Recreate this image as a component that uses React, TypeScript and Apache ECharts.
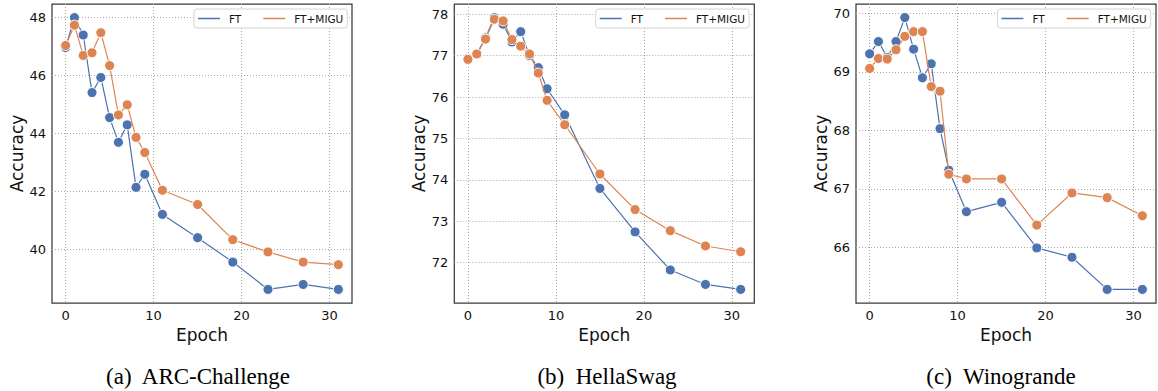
import React, { useEffect, useRef } from "react";
import * as echarts from "echarts";

const epochs = [0, 1, 2, 3, 4, 5, 6, 7, 8, 9, 11, 15, 19, 23, 27, 31];

const arcFT = [46.95, 47.98, 47.38, 45.4, 45.92, 44.54, 43.69, 44.29, 42.14, 42.59, 41.21, 40.41, 39.57, 38.63, 38.8, 38.63];
const arcMIGU = [47.02, 47.72, 46.68, 46.77, 47.46, 46.33, 44.63, 44.98, 43.86, 43.34, 42.04, 41.55, 40.34, 39.92, 39.57, 39.48];

const hsFT = [76.93, 77.04, 77.43, 77.92, 77.76, 77.33, 77.58, 77.0, 76.71, 76.2, 75.57, 73.79, 72.74, 71.82, 71.47, 71.35];
const hsMIGU = [76.91, 77.04, 77.4, 77.88, 77.84, 77.39, 77.23, 77.04, 76.58, 75.92, 75.33, 74.14, 73.28, 72.77, 72.4, 72.26];

const wgFT = [69.31, 69.52, 69.25, 69.52, 69.93, 69.39, 68.9, 69.14, 68.03, 67.32, 66.61, 66.77, 65.99, 65.83, 65.28, 65.28];
const wgMIGU = [69.06, 69.23, 69.22, 69.38, 69.61, 69.69, 69.69, 68.75, 68.67, 67.25, 67.17, 67.17, 66.38, 66.93, 66.85, 66.54];

const xTicks = [0, 10, 20, 30];
const arcYTicks = [40, 42, 44, 46, 48];
const hsYTicks = [72, 73, 74, 75, 76, 77, 78];
const wgYTicks = [66, 67, 68, 69, 70];

const captions = ["(a)\u00a0 ARC-Challenge", "(b)\u00a0 HellaSwag", "(c)\u00a0 Winogrande"];
const seriesNames = ["FT", "FT+MIGU"];

const BLUE = "#4c72b0";
const ORANGE = "#dd8452";
const FONT = "DejaVu Sans";

const panels = [
  { ft: arcFT, migu: arcMIGU, yTicks: arcYTicks, left: 52, legendRight: 810.7, capX: 198 },
  { ft: hsFT, migu: hsMIGU, yTicks: hsYTicks, left: 454.3, legendRight: 409, capX: 607 },
  { ft: wgFT, migu: wgMIGU, yTicks: wgYTicks, left: 856, legendRight: 7.3, capX: 1001 },
];

export default function App() {
  const ref = useRef<HTMLDivElement>(null);
  useEffect(() => {
    if (!ref.current) return;
    const chart = echarts.init(ref.current, undefined, { renderer: "svg" });
    const xMin = Math.min(...epochs);
    const xMax = Math.max(...epochs);
    const xPad = (xMax - xMin) * 0.05;

    const grids: any[] = [];
    const xAxes: any[] = [];
    const yAxes: any[] = [];
    const series: any[] = [];
    const legends: any[] = [];
    const graphics: any[] = [];

    panels.forEach((p, i) => {
      const all = [...p.ft, ...p.migu];
      const lo = Math.min(...all);
      const hi = Math.max(...all);
      const pad = (hi - lo) * 0.05;
      grids.push({
        left: p.left,
        top: 4,
        width: 300,
        height: 299,
        show: true,
        borderColor: "#3a3a3a",
        borderWidth: 1.25,
        backgroundColor: "transparent",
        containLabel: false,
      });
      xAxes.push({
        type: "value",
        gridIndex: i,
        min: xMin - xPad,
        max: xMax + xPad,
        name: "Epoch",
        nameLocation: "middle",
        nameGap: 22,
        nameTextStyle: { fontFamily: FONT, fontSize: 17, color: "#111" },
        axisLine: { show: false },
        axisTick: { show: false, customValues: xTicks },
        axisLabel: { customValues: xTicks, fontFamily: FONT, fontSize: 13, color: "#111", margin: 6 },
        splitLine: { show: true, lineStyle: { type: [1, 2], color: "#a8a8a8", width: 1 } },
      });
      yAxes.push({
        type: "value",
        gridIndex: i,
        min: lo - pad,
        max: hi + pad,
        name: "Accuracy",
        nameLocation: "middle",
        nameGap: 27,
        nameTextStyle: { fontFamily: FONT, fontSize: 17, color: "#111" },
        axisLine: { show: false },
        axisTick: { show: false, customValues: p.yTicks },
        axisLabel: { customValues: p.yTicks, fontFamily: FONT, fontSize: 13, color: "#111", margin: 6 },
        splitLine: { show: true, lineStyle: { type: [1, 2], color: "#a8a8a8", width: 1 } },
      });
      [p.ft, p.migu].forEach((vals, k) => {
        series.push({
          type: "line",
          name: seriesNames[k],
          xAxisIndex: i,
          yAxisIndex: i,
          data: epochs.map((e, j) => [e, vals[j]]),
          symbol: "circle",
          symbolSize: 10,
          color: k === 0 ? BLUE : ORANGE,
          lineStyle: { width: 1.2, color: k === 0 ? BLUE : ORANGE },
          itemStyle: { color: k === 0 ? BLUE : ORANGE, borderColor: "#fff", borderWidth: 1 },
          z: 2 + k,
        });
      });
      legends.push({
        data: seriesNames,
        top: 9,
        right: p.legendRight,
        orient: "horizontal",
        icon: "rect",
        itemWidth: 22,
        itemHeight: 1.5,
        itemGap: 22,
        padding: [4, 4, 4, 4],
        borderColor: "#d4d4d4",
        borderWidth: 1,
        borderRadius: 3,
        backgroundColor: "#fff",
        itemStyle: { borderWidth: 0 },
        textStyle: { fontFamily: FONT, fontSize: 10.5, color: "#111", padding: [0, 0, 0, 4] },
        selectedMode: false,
      });
      graphics.push({
        type: "text",
        x: p.capX,
        y: 376,
        style: {
          text: captions[i],
          font: "23px 'Liberation Serif'",
          fill: "#000",
          textAlign: "center",
          textVerticalAlign: "middle",
        },
      });
    });

    chart.setOption({
      animation: false,
      backgroundColor: "#fff",
      grid: grids,
      xAxis: xAxes,
      yAxis: yAxes,
      legend: legends,
      series,
      graphic: graphics,
    });
    return () => chart.dispose();
  }, []);
  return (
    <div
      ref={ref}
      style={{ position: "fixed", left: 0, top: 0, width: 1158, height: 391 }}
    />
  );
}
